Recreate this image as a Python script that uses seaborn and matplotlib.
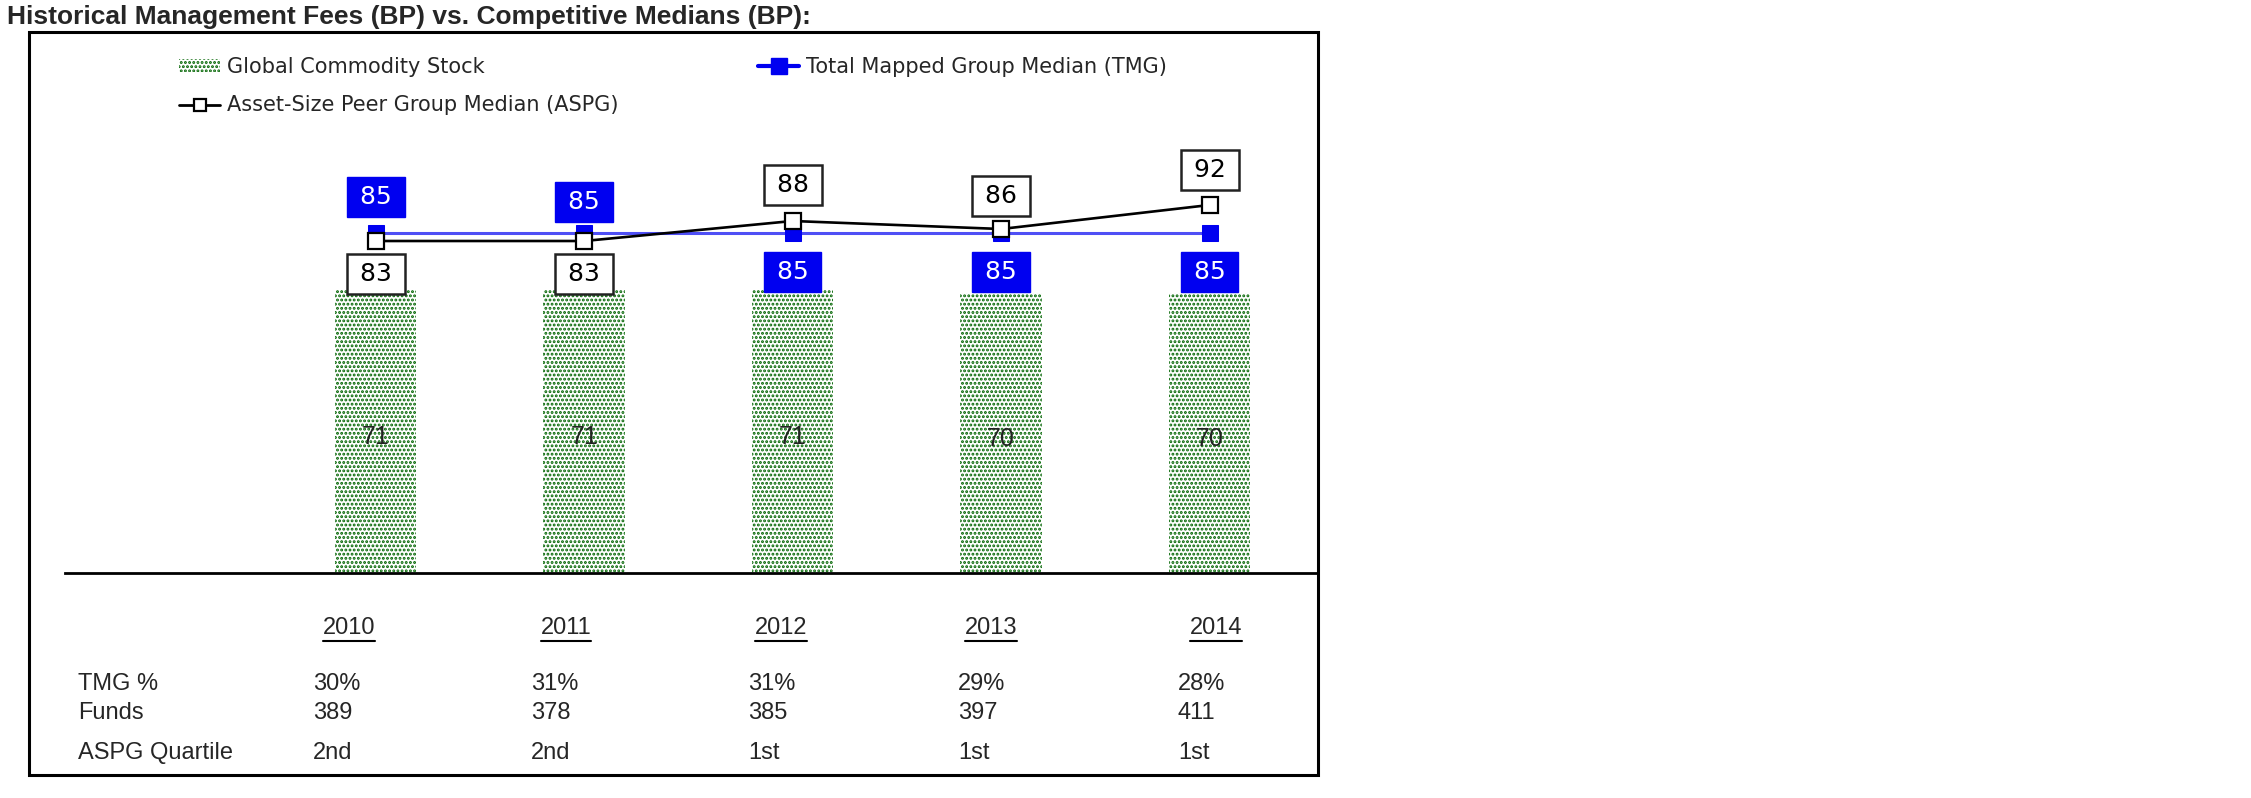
import numpy as np
import pandas as pd
import seaborn as sns
import matplotlib.pyplot as plt
from matplotlib.patches import Patch, Rectangle
from matplotlib.lines import Line2D

# Chart data
years = ["2010", "2011", "2012", "2013", "2014"]
fund_fees = [71, 71, 71, 70, 70]
tmg_median = [85, 85, 85, 85, 85]
aspg_median = [83, 83, 88, 86, 92]
tmg_pct = ["30%", "31%", "31%", "29%", "28%"]
funds = ["389", "378", "385", "397", "411"]
aspg_quartile = ["2nd", "2nd", "1st", "1st", "1st"]
row_names = ["TMG %", "Funds", "ASPG Quartile"]

W, H = 2251, 798
GREEN = "#006400"
BLUE = "#0000f0"
LINE_BLUE = "#4f4ff5"

sns.set_theme(style="white")
plt.rcParams["font.family"] = ["Liberation Sans", "DejaVu Sans"]
plt.rcParams["hatch.linewidth"] = 1.4


def fx(x):
    return x / W


def fy(y):
    return 1 - y / H


fig = plt.figure(figsize=(W / 100, H / 100), dpi=100)
ax = fig.add_axes([fx(65), fy(573), fx(1318) - fx(65), fy(33) - fy(573)])

# bars
df = pd.DataFrame({"year": years, "fee": fund_fees})
sns.barplot(data=df, x="year", y="fee", ax=ax, width=0.39,
            color="white", saturation=1)
for p in ax.patches:
    p.set_facecolor("white")
    p.set_edgecolor(GREEN)
    p.set_linewidth(0)
    p.set_hatch("....")
ax.bar_label(ax.containers[0], label_type="center", fontsize=18, color="#222222",
             padding=-4)

# median lines
xs = np.arange(len(years))
sns.lineplot(x=xs, y=tmg_median, ax=ax, color=LINE_BLUE, lw=2.2,
             marker="s", markersize=11.5, markerfacecolor=BLUE,
             markeredgecolor=BLUE, zorder=4)
sns.lineplot(x=xs, y=aspg_median, ax=ax, color="black", lw=1.9,
             marker="s", markersize=11, markerfacecolor="white",
             markeredgecolor="black", markeredgewidth=1.6, zorder=5)

# value boxes
tmg_off = [26, 22, -28, -28, -28]
aspg_off = [-24, -24, 26, 24, 25]
for i in range(len(years)):
    ax.annotate("\u2009" + str(tmg_median[i]) + "\u2009", (xs[i], tmg_median[i]),
                xytext=(0, tmg_off[i]), textcoords="offset points",
                ha="center", va="center", fontsize=18, color="white", zorder=6,
                family="DejaVu Sans",
                bbox=dict(boxstyle="square,pad=0.32", fc=BLUE, ec=BLUE))
    ax.annotate("\u2009" + str(aspg_median[i]) + "\u2009", (xs[i], aspg_median[i]),
                xytext=(0, aspg_off[i]), textcoords="offset points",
                ha="center", va="center", fontsize=18, color="black", zorder=6,
                family="DejaVu Sans",
                bbox=dict(boxstyle="square,pad=0.32", fc="white", ec="#222222", lw=1.8))

ax.set_xlim(-1.49, 4.52)
ax.set_ylim(0, 135)
ax.set_xlabel("")
ax.set_ylabel("")
ax.set_xticks([])
ax.set_yticks([])
for s in ["top", "left", "right"]:
    ax.spines[s].set_visible(False)
ax.spines["bottom"].set_color("black")
ax.spines["bottom"].set_linewidth(2)

# legend
h_bar = Patch(facecolor="white", edgecolor=GREEN, linewidth=0, hatch="....")
h_tmg = Line2D([], [], color=BLUE, lw=3, marker="s", markersize=11,
               markerfacecolor=BLUE, markeredgecolor=BLUE)
h_aspg = Line2D([], [], color="black", lw=2, marker="s", markersize=9,
                markerfacecolor="white", markeredgecolor="black", markeredgewidth=1.6)
fig.legend([h_bar, h_aspg, h_tmg],
           ["Global Commodity Stock", "Asset-Size Peer Group Median (ASPG)",
            "Total Mapped Group Median (TMG)"],
           ncol=2, loc="upper left", bbox_to_anchor=(fx(160), fy(38)),
           frameon=False, prop={"family": "DejaVu Sans", "size": 15},
           handlelength=2.0, handleheight=0.6, handletextpad=0.3,
           labelspacing=0.9, columnspacing=6.7)

# outer frame and title
fig.patches.append(Rectangle((fx(29), fy(775)), fx(1318) - fx(29), fy(32) - fy(775),
                             transform=fig.transFigure, fill=False,
                             ec="black", lw=2.2))
fig.text(fx(7), fy(17), "Historical Management Fees (BP) vs. Competitive Medians (BP):",
         fontsize=19, fontweight="bold", va="center", ha="left")

# table under the chart
year_x = [349, 566, 781, 991, 1216]
col_x = [313, 531, 748, 958, 1178]
row_y = [684, 713, 753]
year_texts = []
for i, yr in enumerate(years):
    t = fig.text(fx(year_x[i]), fy(628), yr, fontsize=17, ha="center", va="center")
    year_texts.append(t)
rows = [tmg_pct, funds, aspg_quartile]
for r, name in enumerate(row_names):
    fig.text(fx(78), fy(row_y[r]), name, fontsize=17, ha="left", va="center")
    for i, val in enumerate(rows[r]):
        fig.text(fx(col_x[i]), fy(row_y[r]), val, fontsize=17, ha="left", va="center")

fig.canvas.draw()
renderer = fig.canvas.get_renderer()
for t in year_texts:
    bb = t.get_window_extent(renderer)
    fig.add_artist(Line2D([bb.x0 / W, bb.x1 / W], [(bb.y0 - 2) / H] * 2,
                          transform=fig.transFigure, color="black", lw=1.5))

fig.savefig("out.png", dpi=100, facecolor="white")
